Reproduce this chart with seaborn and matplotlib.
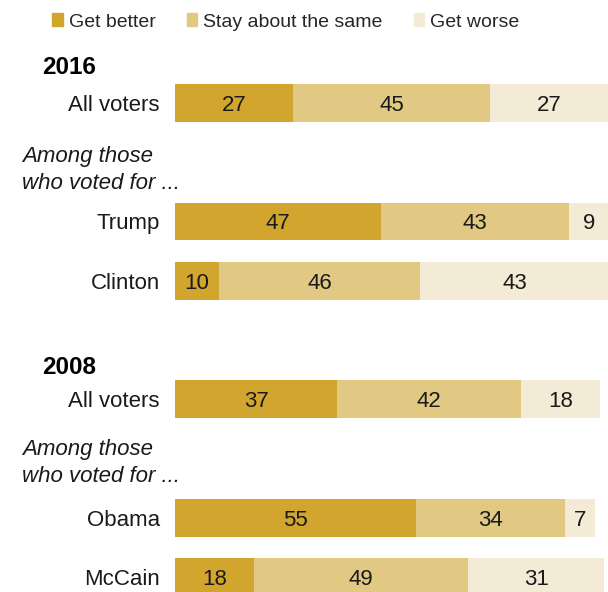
import matplotlib
matplotlib.use("Agg")
import matplotlib.pyplot as plt
import matplotlib.patches as mpatches
import seaborn as sns
import pandas as pd
import numpy as np

# data
keys = ["2016 All voters", "Trump", "Clinton", "2008 All voters", "Obama", "McCain"]
names = ["All voters", "Trump", "Clinton", "All voters", "Obama", "McCain"]
better = [27, 47, 10, 37, 55, 18]
same = [45, 43, 46, 42, 34, 49]
worse = [27, 9, 43, 18, 7, 31]
series = ["Get better", "Stay about the same", "Get worse"]
colors = ["#D2A62E", "#E2C983", "#F4EBD6"]

# row slots, blanks hold headers / notes
slots = ["2016 All voters", "_a", "Trump", "Clinton", "_b", "2008 All voters", "_c", "Obama", "McCain"]

sns.set_theme(style="white")
plt.rcParams['font.family'] = ['Liberation Sans', 'DejaVu Sans']

df = pd.DataFrame({"key": keys, "better": better, "same": same, "worse": worse})
df["c1"] = df["better"]
df["c2"] = df["better"] + df["same"]
df["c3"] = df["c2"] + df["worse"]

W, H = 608, 592
fig = plt.figure(figsize=(W / 100, H / 100), dpi=100)
ax = fig.add_axes([175 / W, 0, 1 - 175 / W, 1])

# draw stacked: total first, then overlay
for col, c in zip(["c3", "c2", "c1"], colors[::-1]):
    sns.barplot(data=df, y="key", x=col, order=slots, color=c, orient="h",
                width=0.64, saturation=1, ax=ax, linewidth=0)

ax.set_xlim(0, 433 / 4.38)
ax.set_ylim(8.253, -1.738)
ax.set_xlabel("")
ax.set_ylabel("")
ax.set_xticks([])
ax.set_yticks(range(len(slots)))
lab = dict(zip(keys, names))
ax.set_yticklabels([lab.get(s, "") for s in slots], fontsize=16, color="#1a1a1a")
ax.tick_params(axis="y", length=0, pad=11)
for s in ax.spines.values():
    s.set_visible(False)

# value labels
for _, r in df.iterrows():
    y = slots.index(r["key"])
    starts = [0, r["c1"], r["c2"]]
    vals = [r["better"], r["same"], r["worse"]]
    for st, v in zip(starts, vals):
        ax.text(st + v / 2, y, str(v), ha="center", va="center_baseline", fontsize=16, color="#1a1a1a")

def fy(px):
    return 1 - px / H

fig.text(42 / W, fy(67), "2016", fontsize=17.5, fontweight="bold", va="center", color="black")
fig.text(42 / W, fy(368), "2008", fontsize=17.5, fontweight="bold", va="center", color="black")
for top in [157, 450]:
    fig.text(22 / W, fy(top), "Among those", fontsize=16, style="italic", va="center", color="#1a1a1a")
    fig.text(22 / W, fy(top + 27), "who voted for ...", fontsize=16, style="italic", va="center", color="#1a1a1a")

handles = [mpatches.Patch(color=c, label=l) for c, l in zip(colors, series)]
fig.legend(handles=handles, loc="center left", bbox_to_anchor=(52 / W, fy(22)), ncol=3,
           frameon=False, fontsize=14, handlelength=0.55, handleheight=0.6,
           handletextpad=0.3, columnspacing=1.6, borderpad=0, borderaxespad=0)

fig.savefig("out.png", dpi=100)
